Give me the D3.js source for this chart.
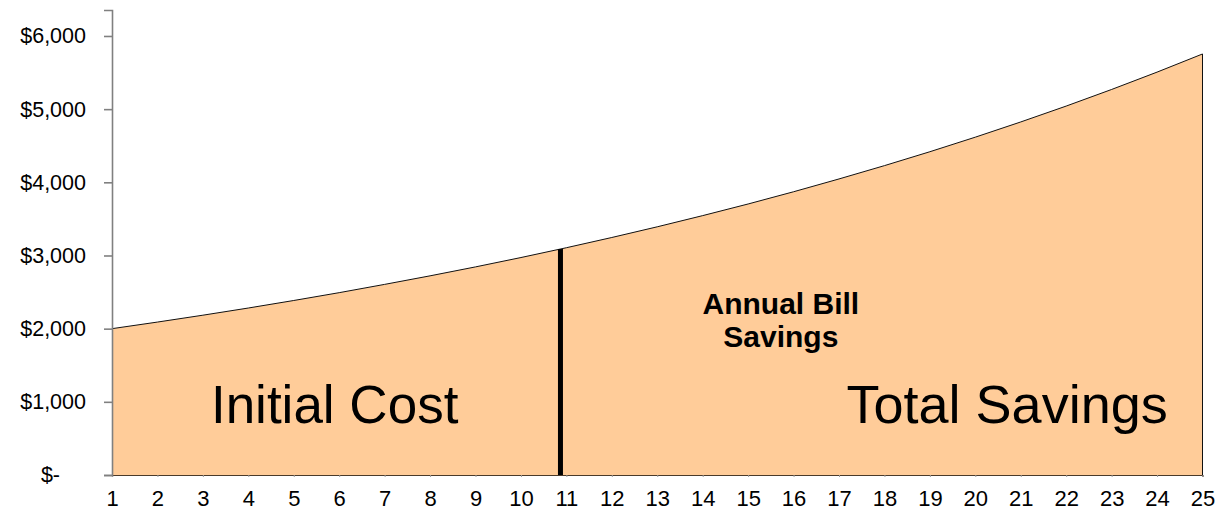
<!DOCTYPE html>
<html><head><meta charset="utf-8">
<script src="https://cdn.jsdelivr.net/npm/d3@7/dist/d3.min.js"></script>
<style>
body{margin:0;background:#fff;}
text{font-family:"Liberation Sans",Arial,sans-serif;}
</style></head>
<body><svg id="c" width="1218" height="511"></svg>
<script>
const years = [1,2,3,4,5,6,7,8,9,10,11,12,13,14,15,16,17,18,19,20,21,22,23,24,25];
const savings = [2000,2090,2184,2282,2385,2492,2605,2722,2844,2972,3106,3246,3392,3545,3704,3871,4046,4228,4418,4617,4825,5042,5269,5506,5754];
const yTicks = [0,1000,2000,3000,4000,5000,6000];
const yTickLabels = ["$-","$1,000","$2,000","$3,000","$4,000","$5,000","$6,000"];
const dividerYear = 10.87;
const labels = [
  {text:"Initial Cost", year:5.9, value:713, size:53, weight:"normal"},
  {text:"Total Savings", year:20.7, value:713, size:54, weight:"normal"},
];
const note = {lines:["Annual Bill","Savings"], year:15.72, value:2205};

const svg = d3.select("#c");
const x = d3.scaleLinear().domain([1,25]).range([112,1202.5]);
const y = d3.scaleLinear().domain([0,6355]).range([475,10]);

const data = years.map((d,i)=>({year:d, v:savings[i]}));

// area
const area = d3.area().x(d=>x(d.year)).y0(y(0)).y1(d=>y(d.v));
svg.append("path").datum(data).attr("d",area).attr("fill","#FFCC99");
const line = d3.line().x(d=>x(d.year)).y(d=>y(d.v));
svg.append("path").datum(data).attr("d",line).attr("fill","none").attr("stroke","#111").attr("stroke-width",1);
// right edge
svg.append("line").attr("x1",x(25)).attr("x2",x(25)).attr("y1",y(savings[24])).attr("y2",y(0))
  .attr("stroke","#111").attr("stroke-width",1);

// divider
const i0 = Math.floor(dividerYear)-1;
const dv = savings[i0] + (dividerYear - years[i0])*(savings[i0+1]-savings[i0]);
svg.append("line").attr("x1",x(dividerYear)).attr("x2",x(dividerYear))
  .attr("y1",y(dv)).attr("y2",y(0)+1).attr("stroke","#000").attr("stroke-width",5);

// x axis
const xa = svg.append("g").attr("transform",`translate(0,${y(0)})`)
  .call(d3.axisBottom(x).tickValues(years).tickFormat(d3.format("d")).tickSize(2).tickPadding(13));
xa.select(".domain").attr("stroke","#4a3a2a").attr("stroke-width",1.2);
xa.selectAll(".tick line").attr("stroke","#999");
xa.selectAll(".tick text").attr("font-size","22px").attr("fill","#000")
  .attr("font-family","'Liberation Sans',Arial,sans-serif");

// y axis
const ya = svg.append("g").attr("transform",`translate(${x(1)},0)`)
  .call(d3.axisLeft(y).tickValues(yTicks).tickFormat((d,i)=>yTickLabels[i]).tickSize(8).tickPadding(18));
ya.select(".domain").attr("stroke","#808080").attr("stroke-width",1.6);
ya.selectAll(".tick line").attr("stroke","#808080").attr("stroke-width",1.6);
ya.selectAll(".tick text").attr("font-size","21.5px").attr("fill","#000")
  .attr("font-family","'Liberation Sans',Arial,sans-serif")
  .attr("dx",d=>d===0?-26:0);

// labels
labels.forEach(l=>{
  svg.append("text").attr("x",x(l.year)).attr("y",y(l.value)).attr("text-anchor","middle")
    .attr("font-size",l.size+"px").attr("font-weight",l.weight).attr("fill","#000").text(l.text);
});
const nt = svg.append("text").attr("x",x(note.year)).attr("y",y(note.value)).attr("text-anchor","middle")
  .attr("font-size","30px").attr("font-weight","bold").attr("fill","#000");
note.lines.forEach((t,i)=>nt.append("tspan").attr("x",x(note.year)).attr("dy",i===0?0:33).text(t));
</script></body></html>
